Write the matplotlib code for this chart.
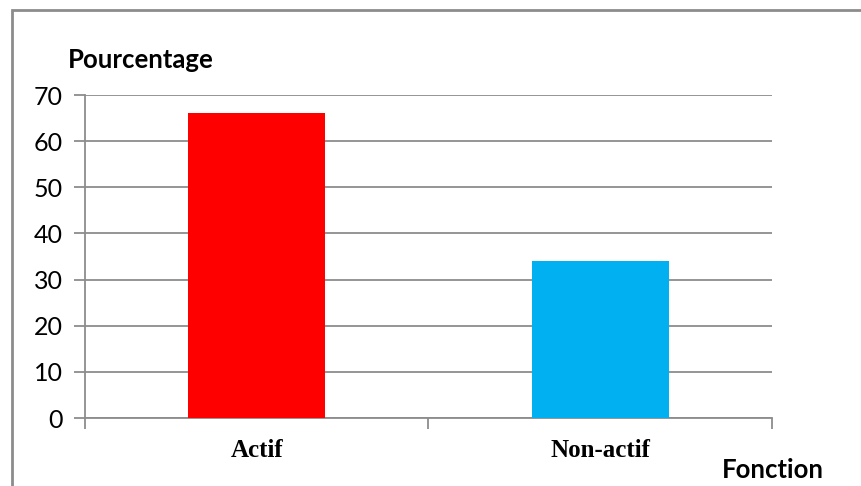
import matplotlib.pyplot as plt
from matplotlib.patches import Rectangle

# Répartition selon la fonction
categories = ["Actif", "Non-actif"]
pourcentages = [66, 34]
couleurs = ["#FF0000", "#00B0F0"]

GRIS = "#8C8C8C"

fig = plt.figure(figsize=(8.61, 4.86), dpi=100)
ax = fig.add_axes([0.0987, 0.1399, 0.7979, 0.6646])

x = range(len(categories))
ax.bar(x, pourcentages, width=0.4, color=couleurs, zorder=3)

ax.set_xlim(-0.5, len(categories) - 0.5)
ax.set_ylim(0, 70)
ax.set_yticks(range(0, 71, 10))
ax.yaxis.grid(True, color=GRIS, linewidth=1.3, zorder=0)

# graduations de l'axe x entre les catégories
ax.set_xticks([-0.5, 0.5, 1.5])
ax.set_xticklabels([])
ax.set_xticks(list(x), minor=True)
ax.set_xticklabels(categories, minor=True, family="Liberation Serif",
                   fontweight="bold", fontsize=18)
ax.tick_params(axis="x", which="minor", length=0, pad=15)
ax.tick_params(axis="x", which="major", length=8, width=1.3, color=GRIS)
ax.tick_params(axis="y", length=8, width=1.3, color=GRIS, pad=8,
               labelsize=18)
for lab in ax.get_yticklabels():
    lab.set_family("Lato")

for side in ["top", "right"]:
    ax.spines[side].set_visible(False)
for side in ["left", "bottom"]:
    ax.spines[side].set_color(GRIS)
    ax.spines[side].set_linewidth(1.3)

fig.text(68 / 861, 1 - 60 / 486, "Pourcentage", family="Lato",
         fontweight="bold", fontsize=18.5, va="center", ha="left")
fig.text(824 / 861, 1 - 470 / 486, "Fonction", family="Lato",
         fontweight="bold", fontsize=18.5, va="center", ha="right")

# cadre du graphique
fig.patches.append(Rectangle((12 / 861, -0.1), 1.0, 1 - 10 / 486 + 0.1,
                             transform=fig.transFigure, fill=False,
                             edgecolor=GRIS, linewidth=2))

fig.savefig("out.png", dpi=100)
